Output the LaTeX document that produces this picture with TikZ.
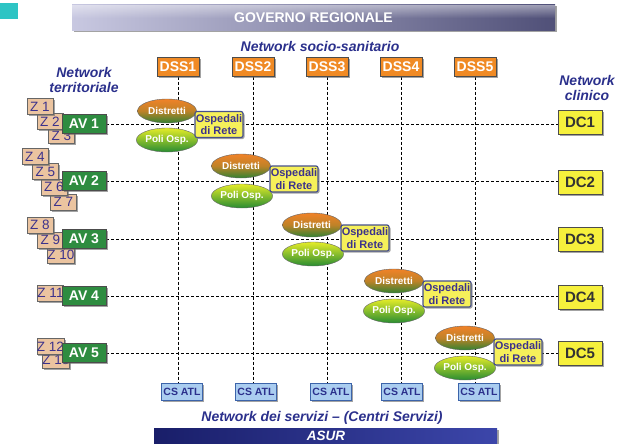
\documentclass[tikz,border=0pt]{standalone}
\usepackage{fontspec}
\setmainfont{Liberation Sans}
\usetikzlibrary{positioning, shapes.geometric, shadows, fadings, backgrounds}

\definecolor{netblue}{RGB}{43,48,140}
\definecolor{dssorange}{RGB}{240,138,36}
\definecolor{avgreen}{RGB}{46,140,64}
\definecolor{ztan}{RGB}{235,196,160}
\definecolor{zblue}{RGB}{60,50,140}
\definecolor{dcyellow}{RGB}{246,240,60}
\definecolor{ospyellow}{RGB}{246,240,90}
\definecolor{ospedge}{RGB}{70,80,140}
\definecolor{csblue}{RGB}{170,205,240}
\definecolor{csedge}{RGB}{60,100,170}
\definecolor{markteal}{RGB}{46,196,196}

\begin{document}
\begin{tikzpicture}[x=1pt, y=-1pt,
    every node/.style={inner sep=0pt},
    shd/.style={drop shadow={shadow xshift=1.5pt, shadow yshift=-1.5pt, fill=black!60, opacity=.6}},
    dss/.style={draw=black!70, fill=dssorange, text=white, font=\bfseries\fontsize{14}{14}\selectfont, minimum width=42pt, minimum height=19pt, shd},
    av/.style={draw=black!70, fill=avgreen, text=white, font=\bfseries\fontsize{14}{14}\selectfont, minimum width=44pt, minimum height=19pt, shd},
    zbox/.style={draw=black!60, fill=ztan, text=zblue, font=\fontsize{13.5}{13.5}\selectfont, minimum width=26pt, minimum height=16pt, shd},
    dc/.style={draw=black!70, fill=dcyellow, text=black!80, font=\bfseries\fontsize{15}{15}\selectfont, minimum width=44pt, minimum height=24pt, shd},
    distr/.style={ellipse, draw=black!60, top color={rgb,255:red,240;green,130;blue,40}, bottom color={rgb,255:red,50;green,130;blue,50}, middle color={rgb,255:red,190;green,130;blue,40}, text=white, font=\bfseries\fontsize{10}{10}\selectfont, minimum width=59pt, minimum height=24pt},
    poli/.style={ellipse, draw=black!60, top color={rgb,255:red,228;green,236;blue,40}, bottom color={rgb,255:red,40;green,140;blue,50}, text=white, font=\bfseries\fontsize{10}{10}\selectfont, minimum width=59pt, minimum height=24pt},
    osped/.style={draw=ospedge, line width=1.2pt, rounded corners=2pt, fill=ospyellow, text=zblue, font=\bfseries\fontsize{11}{12.5}\selectfont, align=center, minimum width=48pt, minimum height=26pt, shd},
    csatl/.style={draw=csedge, fill=csblue, text=netblue, font=\bfseries\fontsize{10.5}{10.5}\selectfont, minimum width=41pt, minimum height=17pt, shd},
    netlabel/.style={text=netblue, font=\bfseries\itshape\fontsize{14}{15}\selectfont, align=center},
    gridline/.style={line width=0.7pt, dash pattern=on 3pt off 2pt}
]
\useasboundingbox (0,0) rectangle (621,444);

% corner mark
\fill[markteal] (0,3) rectangle (18,19);

% top and bottom banners
\node[minimum width=483pt, minimum height=26pt, left color={rgb,255:red,200;green,200;blue,225}, right color={rgb,255:red,80;green,80;blue,120}, shd] (gov) at (313.5,18) {};
\fill[white, opacity=.45, path fading=south] (gov.north west) rectangle (gov.east);
\node[text=white, font=\bfseries\fontsize{14}{14}\selectfont] at (gov) {GOVERNO REGIONALE};

\node[minimum width=343pt, minimum height=20pt, left color={rgb,255:red,25;green,30;blue,105}, right color={rgb,255:red,60;green,70;blue,170}, shd] (asur) at (325.5,438) {};
\node[text=white, font=\bfseries\itshape\fontsize{13.5}{14}\selectfont] at (326,436) {ASUR};

% network titles
\node[netlabel] (netsoc) at (320,46) {Network socio-sanitario};
\node[netlabel] (netterr) at (84,80) {Network\\territoriale};
\node[netlabel] (netclin) at (587,88) {Network\\clinico};
\node[netlabel] (netserv) at (322,418) {Network dei servizi – (Centri Servizi)};

% distretti socio-sanitari
\node[dss] (dss1) at (178,67) {DSS1};
\node[dss] (dss2) at (253,67) {DSS2};
\node[dss] (dss3) at (327,67) {DSS3};
\node[dss] (dss4) at (401,67) {DSS4};
\node[dss] (dss5) at (475,67) {DSS5};

% centri servizi
\node[csatl] (cs1) at (182,392) {CS ATL};
\node[csatl] (cs2) at (256,392) {CS ATL};
\node[csatl] (cs3) at (331,392) {CS ATL};
\node[csatl] (cs4) at (402,392) {CS ATL};
\node[csatl] (cs5) at (479,392) {CS ATL};

% zone
\node[zbox] (z3) at (61.5,135.5) {Z 3};
\node[zbox] (z2) at (50,121.5) {Z 2};
\node[zbox] (z1) at (40,106.5) {Z 1};
\node[zbox] (z7) at (63.5,202) {Z 7};
\node[zbox] (z6) at (54,187) {Z 6};
\node[zbox] (z5) at (45.5,171.5) {Z 5};
\node[zbox] (z4) at (35,156.5) {Z 4};
\node[zbox] (z10) at (61,255) {Z 10};
\node[zbox] (z9) at (50.5,240) {Z 9};
\node[zbox] (z8) at (40,225) {Z 8};
\node[zbox] (z11) at (50.5,293) {Z 11};
\node[zbox] (z13) at (56,360) {Z 13};
\node[zbox] (z12) at (50.5,346.5) {Z 12};

% aree vaste
\node[av] (av1) at (84,124) {AV 1};
\node[av] (av2) at (84,181) {AV 2};
\node[av] (av3) at (84,239) {AV 3};
\node[av] (av4) at (84,296) {AV 4};
\node[av] (av5) at (84,353) {AV 5};

% dipartimenti clinici
\node[dc] (dc1) at (580,122) {DC1};
\node[dc] (dc2) at (580,182) {DC2};
\node[dc] (dc3) at (580,239) {DC3};
\node[dc] (dc4) at (580,297) {DC4};
\node[dc] (dc5) at (580,353) {DC5};

% distretti, poli ospedalieri e ospedali di rete
\node[distr] (distr1) at (167,111) {Distretti};
\node[poli] (poli1) at (167,140) {Poli Osp.};
\node[osped] (osp1) at (219,124.5) {Ospedali\\di Rete};

\node[distr] (distr2) at (241,166) {Distretti};
\node[poli] (poli2) at (242,196) {Poli Osp.};
\node[osped] (osp2) at (294,179) {Ospedali\\di Rete};

\node[distr] (distr3) at (312,225) {Distretti};
\node[poli] (poli3) at (313,254) {Poli Osp.};
\node[osped] (osp3) at (365,238) {Ospedali\\di Rete};

\node[distr] (distr4) at (394,281) {Distretti};
\node[poli] (poli4) at (394,311) {Poli Osp.};
\node[osped] (osp4) at (447,294) {Ospedali\\di Rete};

\node[distr] (distr5) at (465,338) {Distretti};
\node[poli] (poli5) at (465,368) {Poli Osp.};
\node[osped] (osp5) at (518,352) {Ospedali\\di Rete};

% dashed grid
\begin{scope}[on background layer]
  \foreach \i in {1,...,5} {
    \draw[gridline] (dss\i.south) -- (dss\i.south |- cs\i.north);
    \draw[gridline] (av\i.east) -- (av\i.east -| dc\i.west);
  }
\end{scope}
\end{tikzpicture}
\end{document}
